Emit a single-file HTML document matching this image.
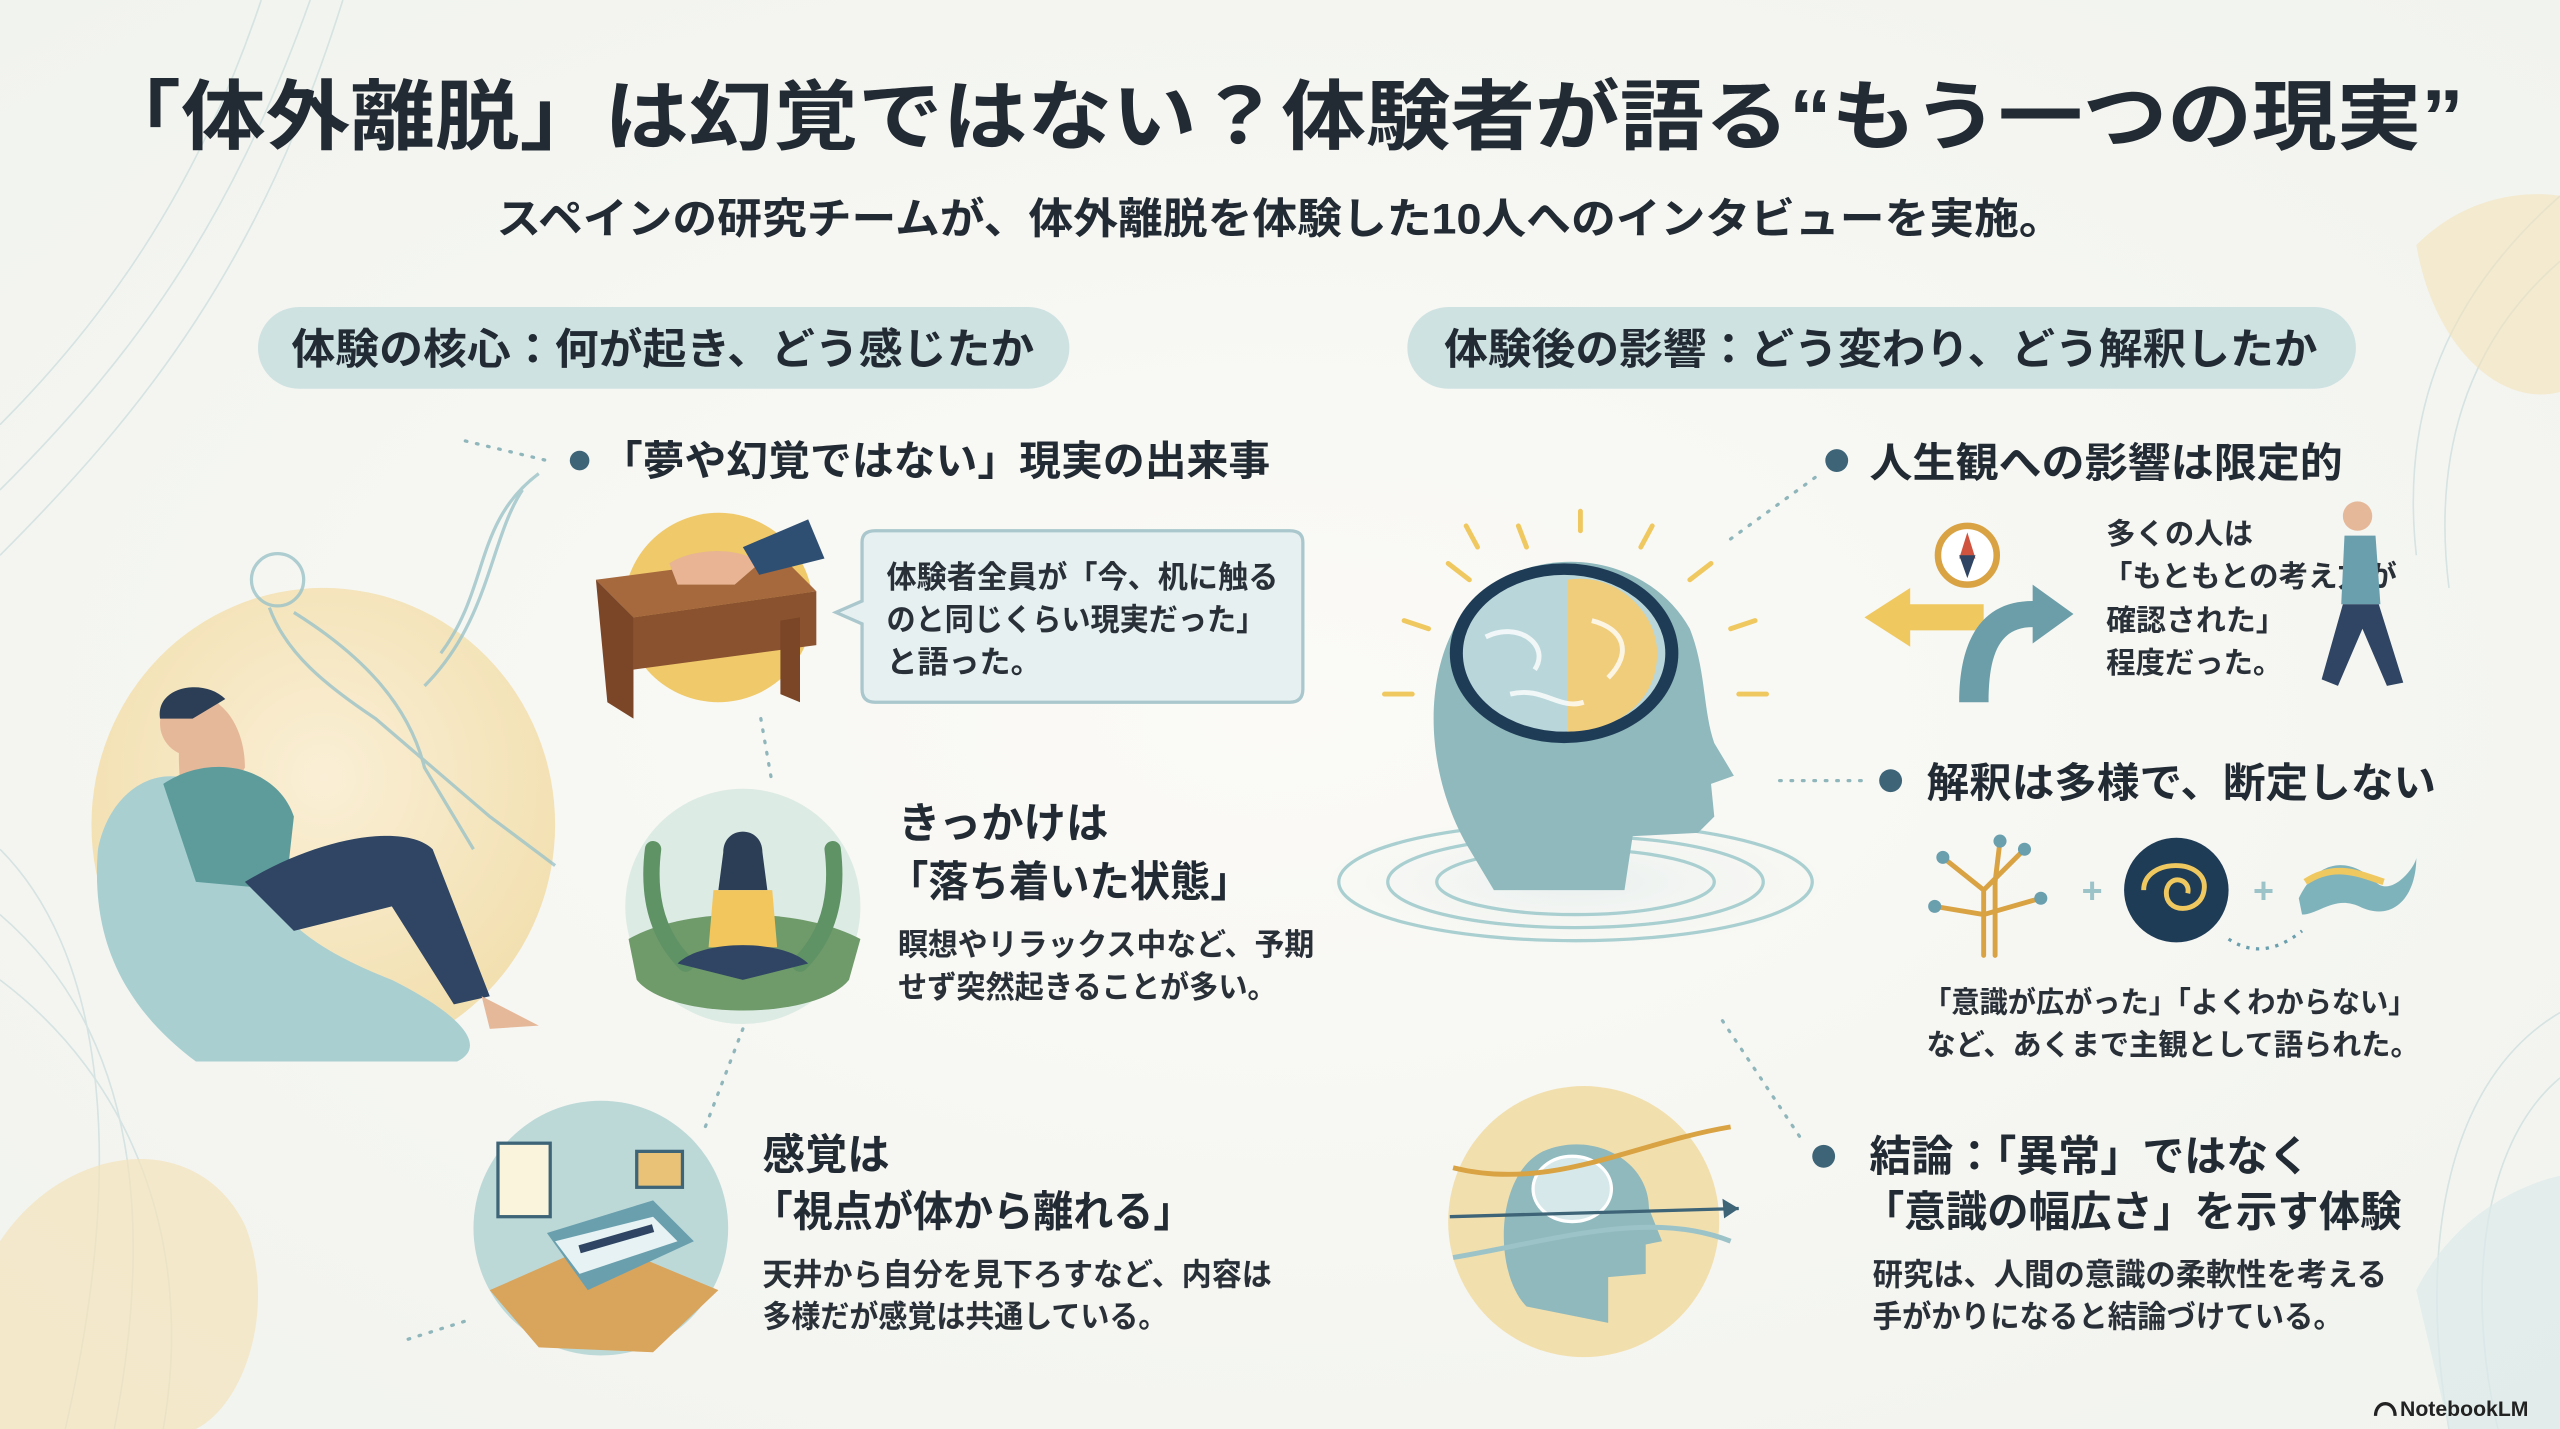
<!DOCTYPE html>
<html><head><meta charset="utf-8"><style>
html,body{margin:0;padding:0;background:#f8f7f3;}
svg{display:block}
text{font-family:"Liberation Sans","Noto Sans CJK JP",sans-serif;fill:#222a33;font-weight:700}
.b{font-weight:700;fill:#2a3038}
</style></head><body>
<svg width="2560" height="1429" viewBox="0 0 1568 875" preserveAspectRatio="none" xmlns="http://www.w3.org/2000/svg">
<defs>
<radialGradient id="bg" cx="50%" cy="50%" r="70%"><stop offset="0" stop-color="#fbfaf6"/><stop offset="1" stop-color="#f1f3ef"/></radialGradient>
<radialGradient id="yc" cx="50%" cy="40%" r="60%"><stop offset="0" stop-color="#faefd6"/><stop offset="1" stop-color="#f2dfae"/></radialGradient>
<radialGradient id="hd" cx="50%" cy="50%" r="60%"><stop offset="0" stop-color="#e8f0ef"/><stop offset="1" stop-color="#f8f7f3" stop-opacity="0"/></radialGradient>
</defs>
<rect width="1568" height="875" fill="url(#bg)"/>
<g fill="none" stroke="#c9dcdc" stroke-width="1" opacity="0.7">
<path d="M0 260 C60 200 120 120 160 0"/><path d="M0 300 C80 220 140 140 190 0"/><path d="M0 340 C90 250 160 160 210 0"/>
<path d="M0 520 C60 580 80 700 40 875"/><path d="M0 560 C70 620 100 720 70 875"/><path d="M0 600 C80 660 120 760 100 875"/>
<path d="M1568 120 C1500 180 1470 250 1480 340"/><path d="M1568 160 C1510 210 1490 280 1500 360"/>
<path d="M1568 620 C1500 660 1480 760 1500 875"/><path d="M1568 660 C1520 700 1510 790 1530 875"/>
</g>
<path d="M0 760 C40 700 120 690 150 750 C170 800 150 860 120 875 L0 875Z" fill="#f4e3bb" opacity="0.7"/>
<path d="M1480 150 C1520 110 1568 120 1568 120 L1568 240 C1530 250 1490 210 1480 150Z" fill="#f4e3bb" opacity="0.6"/>
<path d="M1480 790 C1510 730 1568 720 1568 720 L1568 875 L1500 875Z" fill="#dbe9ea" opacity="0.7"/>

<text x="784" y="88" text-anchor="middle" font-size="47" textLength="1450" lengthAdjust="spacingAndGlyphs">「体外離脱」は幻覚ではない？体験者が語る“もう一つの現実”</text>
<text x="784" y="143" text-anchor="middle" font-size="26" textLength="960" lengthAdjust="spacingAndGlyphs">スペインの研究チームが、体外離脱を体験した10人へのインタビューを実施。</text>

<rect x="158" y="188" width="497" height="50" rx="25" fill="#cfe2e2"/>
<text x="406" y="223" text-anchor="middle" font-size="26" textLength="455" lengthAdjust="spacingAndGlyphs">体験の核心：何が起き、どう感じたか</text>
<rect x="862" y="188" width="581" height="50" rx="25" fill="#cfe2e2"/>
<text x="1152" y="223" text-anchor="middle" font-size="26" textLength="535" lengthAdjust="spacingAndGlyphs">体験後の影響：どう変わり、どう解釈したか</text>

<ellipse cx="198" cy="505" rx="142" ry="145" fill="url(#yc)"/>
<path d="M60 520 C70 470 120 460 140 500 C160 560 190 580 240 600 C280 620 300 640 280 650 L120 650 C80 620 55 580 60 520Z" fill="#a9cfd1"/>
<path d="M115 430 C130 420 150 440 150 470 L120 520 C110 500 105 450 115 430Z" fill="#e6b89a"/>
<circle cx="118" cy="443" r="20" fill="#e6b89a"/>
<path d="M98 440 C95 420 125 415 138 428 L118 440Z" fill="#2c3e55"/>
<path d="M100 480 C130 460 170 470 180 500 L175 545 L120 540 Z" fill="#5e9c9c"/>
<path d="M150 540 C200 510 250 505 265 520 L300 610 L278 615 L240 555 L180 570 Z" fill="#2f4563"/>
<path d="M295 610 L330 628 L300 630 Z" fill="#e6b89a"/>
<g fill="none" stroke="#9cc3c8" stroke-width="2" opacity="0.8">
<circle cx="170" cy="355" r="16"/><path d="M165 372 C175 400 200 420 230 440 L300 500 L340 530"/><path d="M180 375 C220 400 250 430 260 470 L290 520"/>
<path d="M270 400 C300 360 290 320 330 290"/><path d="M260 420 C300 380 300 330 320 300"/>
</g>
<g fill="none" stroke="#8fb6bb" stroke-width="2" stroke-dasharray="1 6" stroke-linecap="round">
<path d="M285 270 L335 282"/><path d="M466 440 L473 480"/><path d="M455 630 L432 690"/><path d="M250 820 L288 808"/>
</g>

<circle cx="355" cy="282" r="6" fill="#3d6477"/>
<text x="368" y="291" font-size="25" textLength="410" lengthAdjust="spacingAndGlyphs">「夢や幻覚ではない」現実の出来事</text>
<circle cx="440" cy="372" r="58" fill="#efc96a"/>
<path d="M365 355 L478 340 L500 362 L388 378Z" fill="#a5693d"/>
<path d="M388 378 L500 362 L500 395 L388 410Z" fill="#8b5230"/>
<path d="M365 355 L388 378 L388 440 L372 430Z" fill="#7a4627"/>
<path d="M478 380 L490 378 L490 430 L478 425Z" fill="#7a4627"/>
<path d="M410 345 C425 335 455 335 465 345 L450 358 L415 358Z" fill="#e8b494"/>
<path d="M455 335 L495 318 L505 342 L465 352Z" fill="#2f4f72"/>
<path d="M528 332 Q528 325 536 325 L790 325 Q798 325 798 332 L798 422 Q798 430 790 430 L536 430 Q528 430 528 422 L528 382 L512 375 L528 368Z" fill="#e6f0f1" stroke="#a9c7cc" stroke-width="2"/>
<text class="b" x="543" y="360" font-size="19" textLength="240" lengthAdjust="spacingAndGlyphs">体験者全員が「今、机に触る</text>
<text class="b" x="543" y="386" font-size="19" textLength="232" lengthAdjust="spacingAndGlyphs">のと同じくらい現実だった」</text>
<text class="b" x="543" y="412" font-size="19">と語った。</text>

<circle cx="455" cy="555" r="72" fill="#dcebe4"/>
<path d="M385 575 C420 555 490 555 527 575 L520 600 C500 625 410 625 390 600Z" fill="#6f9a6a"/>
<path d="M400 520 C395 560 410 580 420 590 M510 520 C515 560 500 580 490 590" stroke="#5f9265" stroke-width="10" fill="none" stroke-linecap="round"/>
<circle cx="455" cy="525" r="12" fill="#e6b89a"/><path d="M443 522 C443 505 467 505 467 522 L470 545 L440 545Z" fill="#2c3e55"/>
<path d="M437 545 L473 545 L476 580 L434 580Z" fill="#f2c65d"/>
<path d="M415 590 C430 575 480 575 495 590 L455 600Z" fill="#2f4563"/>
<text x="550" y="513" font-size="26">きっかけは</text>
<text x="544" y="549" font-size="26" textLength="222" lengthAdjust="spacingAndGlyphs">「落ち着いた状態」</text>
<text class="b" x="550" y="585" font-size="19" textLength="255" lengthAdjust="spacingAndGlyphs">瞑想やリラックス中など、予期</text>
<text class="b" x="550" y="611" font-size="19" textLength="232" lengthAdjust="spacingAndGlyphs">せず突然起きることが多い。</text>

<circle cx="368" cy="752" r="78" fill="#bcd9d8"/>
<path d="M300 790 L368 760 L440 790 L400 828 L330 825Z" fill="#d9a45c"/>
<rect x="305" y="700" width="32" height="45" fill="#fbf4dc" stroke="#3d6477" stroke-width="2"/>
<path d="M335 755 L400 735 L425 760 L360 790Z" fill="#6a9fae"/>
<path d="M340 760 L400 745 L415 760 L355 780Z" fill="#e6f2f3"/>
<path d="M355 765 L400 752" stroke="#2f4563" stroke-width="5"/>
<rect x="390" y="705" width="28" height="22" fill="#e9c278" stroke="#3d6477" stroke-width="2"/>
<text x="467" y="716" font-size="26">感覚は</text>
<text x="461" y="751" font-size="26" textLength="270" lengthAdjust="spacingAndGlyphs">「視点が体から離れる」</text>
<text class="b" x="467" y="787" font-size="19" textLength="312" lengthAdjust="spacingAndGlyphs">天井から自分を見下ろすなど、内容は</text>
<text class="b" x="467" y="813" font-size="19" textLength="248" lengthAdjust="spacingAndGlyphs">多様だが感覚は共通している。</text>

<ellipse cx="965" cy="540" rx="150" ry="40" fill="url(#hd)"/>
<g fill="none" stroke="#a9cfd1" stroke-width="2">
<ellipse cx="965" cy="540" rx="145" ry="36"/><ellipse cx="965" cy="540" rx="115" ry="28"/><ellipse cx="965" cy="540" rx="85" ry="20"/>
</g>
<path d="M900 520 C870 470 870 400 905 365 C945 330 1010 340 1035 385 C1045 410 1043 435 1050 455 L1062 475 L1048 480 L1050 500 L1040 510 L1000 512 L995 545 L915 545Z" fill="#8fb9bd"/>
<ellipse cx="958" cy="400" rx="70" ry="55" fill="#1f3c57"/>
<ellipse cx="958" cy="400" rx="62" ry="48" fill="#b9d7da"/>
<path d="M960 355 C990 350 1015 375 1015 400 C1015 430 990 448 960 448Z" fill="#f0cd7b"/>
<g fill="none" stroke="#fff" stroke-width="3" opacity="0.8"><path d="M910 390 C930 380 950 395 940 410"/><path d="M975 380 C995 385 1000 400 985 415"/><path d="M925 425 C945 420 955 435 970 430"/></g>
<g stroke="#f0c860" stroke-width="3" stroke-linecap="round">
<path d="M935 335 L930 322"/><path d="M968 325 L968 313"/><path d="M1005 335 L1012 322"/><path d="M1035 355 L1048 345"/><path d="M1060 385 L1075 380"/><path d="M1065 425 L1082 425"/><path d="M900 355 L887 345"/><path d="M875 385 L860 380"/><path d="M865 425 L848 425"/><path d="M905 335 L898 322"/>
</g>
<g fill="none" stroke="#8fb6bb" stroke-width="2" stroke-dasharray="1 6" stroke-linecap="round">
<path d="M1060 330 L1115 290"/><path d="M1090 478 L1145 478"/><path d="M1055 625 L1105 700"/>
</g>

<circle cx="1125" cy="282" r="7" fill="#3d6477"/>
<text x="1145" y="292" font-size="25" textLength="290" lengthAdjust="spacingAndGlyphs">人生観への影響は限定的</text>
<path d="M1142 378 L1170 360 L1170 370 L1215 370 L1215 386 L1170 386 L1170 396Z" fill="#f0c860"/>
<path d="M1200 430 C1200 390 1215 368 1245 368 L1245 358 L1270 376 L1245 394 L1245 384 C1225 384 1218 400 1218 430Z" fill="#6b9ea8"/>
<circle cx="1205" cy="340" r="18" fill="#fff" stroke="#d9a243" stroke-width="4"/>
<path d="M1205 326 L1210 342 L1200 342Z" fill="#d0533f"/><path d="M1205 354 L1200 340 L1210 340Z" fill="#2f4563"/>
<text class="b" x="1290" y="333" font-size="18">多くの人は</text>
<text class="b" x="1288" y="359" font-size="18" textLength="180" lengthAdjust="spacingAndGlyphs">「もともとの考え方が</text>
<text class="b" x="1290" y="386" font-size="18" textLength="110" lengthAdjust="spacingAndGlyphs">確認された」</text>
<text class="b" x="1290" y="412" font-size="18">程度だった。</text>
<circle cx="1444" cy="316" r="9" fill="#e6b89a"/>
<path d="M1436 328 L1455 328 L1458 370 L1434 370Z" fill="#6a9fae"/>
<path d="M1435 370 L1457 370 L1472 418 L1462 420 L1447 385 L1432 420 L1422 416Z" fill="#2f4563"/>

<circle cx="1158" cy="478" r="7" fill="#3d6477"/>
<text x="1180" y="488" font-size="25" textLength="312" lengthAdjust="spacingAndGlyphs">解釈は多様で、断定しない</text>
<g stroke="#d9a243" stroke-width="3" fill="none" stroke-linecap="round">
<path d="M1215 585 L1215 545 L1190 525 M1215 545 L1240 520 M1215 560 L1185 555 M1215 560 L1250 550 M1222 585 L1222 540 L1225 515"/>
</g>
<g fill="#6a9fae"><circle cx="1190" cy="525" r="4"/><circle cx="1240" cy="520" r="4"/><circle cx="1185" cy="555" r="4"/><circle cx="1250" cy="550" r="4"/><circle cx="1225" cy="515" r="4"/></g>
<text x="1275" y="553" font-size="22" style="fill:#9cc3c8">+</text>
<circle cx="1333" cy="545" r="32" fill="#1f3c57"/>
<path d="M1313 545 C1313 525 1353 525 1350 545 C1348 560 1325 560 1327 545 C1329 535 1342 538 1340 547" stroke="#f0c860" stroke-width="3" fill="none"/>
<text x="1380" y="553" font-size="22" style="fill:#9cc3c8">+</text>
<path d="M1408 550 C1420 525 1440 525 1455 540 C1465 550 1480 530 1480 525 C1480 550 1465 565 1445 555 C1430 548 1420 560 1410 560Z" fill="#7fb3bb"/>
<path d="M1412 540 C1430 528 1445 535 1460 540" stroke="#f0c860" stroke-width="4" fill="none"/>
<path d="M1365 575 C1380 585 1395 582 1410 570" stroke="#6a9fae" stroke-width="2" stroke-dasharray="2 4" fill="none"/>
<text class="b" x="1178" y="620" font-size="18" textLength="302" lengthAdjust="spacingAndGlyphs">「意識が広がった」「よくわからない」</text>
<text class="b" x="1180" y="646" font-size="18" textLength="302" lengthAdjust="spacingAndGlyphs">など、あくまで主観として語られた。</text>

<circle cx="970" cy="748" r="83" fill="#f2dfae"/>
<path d="M935 800 C915 780 915 720 945 705 C975 692 1010 710 1010 740 L1018 760 L1008 762 L1008 780 L985 782 L985 810Z" fill="#8fb9bd"/>
<ellipse cx="963" cy="728" rx="24" ry="20" fill="#d6e8ea" stroke="#fff" stroke-width="2"/>
<path d="M888 745 L1065 740" stroke="#3d6477" stroke-width="2"/><path d="M1065 740 L1055 734 L1056 746Z" fill="#3d6477"/>
<path d="M890 715 C950 730 1000 700 1060 690" stroke="#d9a243" stroke-width="3" fill="none"/>
<path d="M890 770 C950 760 1010 740 1060 760" stroke="#9cc3c8" stroke-width="3" fill="none"/>
<circle cx="1117" cy="708" r="7" fill="#3d6477"/>
<text x="1145" y="717" font-size="26" textLength="270" lengthAdjust="spacingAndGlyphs">結論：「異常」ではなく</text>
<text x="1141" y="751" font-size="26" textLength="330" lengthAdjust="spacingAndGlyphs">「意識の幅広さ」を示す体験</text>
<text class="b" x="1147" y="787" font-size="19" textLength="315" lengthAdjust="spacingAndGlyphs">研究は、人間の意識の柔軟性を考える</text>
<text class="b" x="1147" y="813" font-size="19" textLength="288" lengthAdjust="spacingAndGlyphs">手がかりになると結論づけている。</text>

<text x="1470" y="867" font-size="13" style="fill:#222">NotebookLM</text>
<path d="M1455 867 C1455 857 1467 857 1467 867" stroke="#222" stroke-width="2" fill="none"/>
</svg>
</body></html>
